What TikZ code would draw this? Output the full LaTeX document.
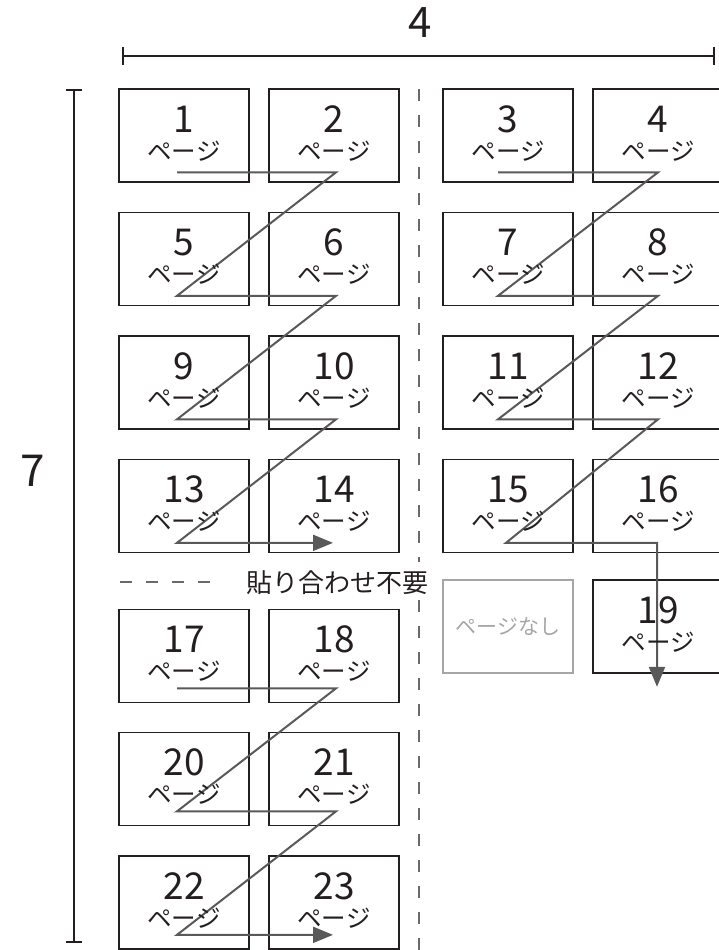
\documentclass[tikz,border=0pt]{standalone}
\usepackage{fontspec}
\setmainfont{Noto Sans CJK JP}
\usetikzlibrary{arrows.meta,calc}
\definecolor{boxc}{HTML}{231F20}
\definecolor{flowc}{HTML}{595959}
\definecolor{dashc}{HTML}{6A6A6A}
\definecolor{nonec}{HTML}{A6A6A6}
\newcommand\pgbox[3]{\node[pagebox] (#1) at (#2,#3) {};}
\newcommand\pglabel[2]{%
  \node[numtxt] (#1n) at ($(#1.north)+(0,44)$) {#2};
  \node[pgtxt] (#1p) at ($(#1.north)+(0,63)$) {ページ};}
\begin{document}
\begin{tikzpicture}[x=1pt,y=-1pt,
  pagebox/.style={draw=boxc,line width=1.7pt,minimum width=130pt,minimum height=93pt,inner sep=0pt},
  nonebox/.style={draw=nonec,line width=1.7pt,minimum width=130pt,minimum height=93pt,inner sep=0pt,text=nonec,font=\fontsize{21}{21}\selectfont},
  numtxt/.style={font=\fontsize{37}{37}\selectfont,text=boxc,inner sep=0pt,anchor=base},
  pgtxt/.style={font=\fontsize{24.5}{24.5}\selectfont,text=boxc,inner sep=0pt},
  flow/.style={draw=flowc,line width=2pt,line join=miter},
  flowarrow/.style={flow,-{Triangle[length=20pt,width=16pt]}},
  guide/.style={draw=dashc,line width=1.2pt,dash pattern=on 12pt off 14pt},
  dimline/.style={draw=boxc,line width=2pt},
  bigtxt/.style={text=boxc,inner sep=0pt}]
\useasboundingbox (0,0) rectangle (719,950);

% dimension lines
\coordinate (dl) at (123,56);
\coordinate (dr) at (714,56);
\draw[dimline] (dl) -- (dr);
\draw[dimline] ($(dl)+(0,-9)$) -- ($(dl)+(0,9)$);
\draw[dimline] ($(dr)+(0,-9)$) -- ($(dr)+(0,9)$);
\node[bigtxt,font=\fontsize{42}{42}\selectfont] (w4) at (420,22.5) {4};

\coordinate (vt) at (74,90);
\coordinate (vb) at (74,942);
\draw[dimline] (vt) -- (vb);
\draw[dimline] ($(vt)+(-8,0)$) -- ($(vt)+(8,0)$);
\draw[dimline] ($(vb)+(-8,0)$) -- ($(vb)+(8,0)$);
\node[bigtxt,font=\fontsize{44}{44}\selectfont] (h7) at (33,471) {7};

% guides
\coordinate (g1) at (419,89);
\coordinate (g2) at (419,562);
\coordinate (g3) at (419,600);
\coordinate (g4) at (419,950);
\draw[guide] (g1) -- (g2);
\draw[guide] (g3) -- (g4);
\coordinate (h1) at (120,582);
\coordinate (h2) at (215,582);
\draw[guide] (h1) -- (h2);
\node[bigtxt,font=\fontsize{26}{26}\selectfont] (nojoin) at (337.5,583) {貼り合わせ不要};

% boxes
\pgbox{p1}{184}{135.5}\pgbox{p2}{334}{135.5}\pgbox{p3}{508}{135.5}\pgbox{p4}{658}{135.5}
\pgbox{p5}{184}{259}\pgbox{p6}{334}{259}\pgbox{p7}{508}{259}\pgbox{p8}{658}{259}
\pgbox{p9}{184}{382.5}\pgbox{p10}{334}{382.5}\pgbox{p11}{508}{382.5}\pgbox{p12}{658}{382.5}
\pgbox{p13}{184}{506}\pgbox{p14}{334}{506}\pgbox{p15}{508}{506}\pgbox{p16}{658}{506}
\node[nonebox] (none) at (508,626.5) {ページなし};
\pgbox{p19}{658}{626.5}
\pgbox{p17}{184}{656}\pgbox{p18}{334}{656}
\pgbox{p20}{184}{779}\pgbox{p21}{334}{779}
\pgbox{p22}{184}{902.5}\pgbox{p23}{334}{902.5}

% reading order
\draw[flowarrow] ($(p1.south)+(-7,-10.5)$) -- ($(p2.south)+(2,-10.5)$)
  -- ($(p5.south)+(-7,-10.5)$) -- ($(p6.south)+(2,-10.5)$)
  -- ($(p9.south)+(-7,-10.5)$) -- ($(p10.south)+(2,-10.5)$)
  -- ($(p13.south)+(-7,-10.5)$) -- ($(p14.south)+(-1,-10.5)$);
\draw[flowarrow] ($(p3.south)+(-10,-10.5)$) -- ($(p4.south)+(0,-10.5)$)
  -- ($(p7.south)+(-10,-10.5)$) -- ($(p8.south)+(0,-10.5)$)
  -- ($(p11.south)+(-10,-10.5)$) -- ($(p12.south)+(0,-10.5)$)
  -- ($(p15.south)+(-2,-10.5)$) -- ($(p16.south)+(-1,-10.5)$)
  -- ($(p19.south)+(-1,13)$);
\draw[flowarrow] ($(p17.south)+(-7,-15)$) -- ($(p18.south)+(2,-15)$)
  -- ($(p20.south)+(-7,-15)$) -- ($(p21.south)+(2,-15)$)
  -- ($(p22.south)+(-7,-15)$) -- ($(p23.south)+(-1,-15)$);

% labels
\pglabel{p1}{1}\pglabel{p2}{2}\pglabel{p3}{3}\pglabel{p4}{4}
\pglabel{p5}{5}\pglabel{p6}{6}\pglabel{p7}{7}\pglabel{p8}{8}
\pglabel{p9}{9}\pglabel{p10}{10}\pglabel{p11}{11}\pglabel{p12}{12}
\pglabel{p13}{13}\pglabel{p14}{14}\pglabel{p15}{15}\pglabel{p16}{16}
\pglabel{p17}{17}\pglabel{p18}{18}\pglabel{p19}{19}
\pglabel{p20}{20}\pglabel{p21}{21}\pglabel{p22}{22}\pglabel{p23}{23}
\end{tikzpicture}
\end{document}
